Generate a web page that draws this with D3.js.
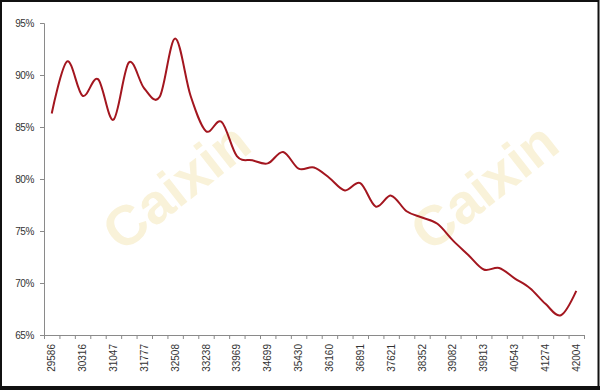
<!DOCTYPE html>
<html>
<head>
<meta charset="utf-8">
<script src="https://cdn.jsdelivr.net/npm/d3@7"></script>
<style>
  body { margin: 0; background: #fff; }
  svg { display: block; }
</style>
</head>
<body>
<div id="chart"></div>
<script>
// size of the picture
var chart_width = 600;
var chart_height = 390;

// categories: excel date serials, one per year-end 1980..2014
var dates = [29586, 29951, 30316, 30681, 31047, 31412, 31777, 32142, 32508, 32873,
             33238, 33603, 33969, 34334, 34699, 35064, 35430, 35795, 36160, 36525,
             36891, 37256, 37621, 37986, 38352, 38717, 39082, 39447, 39813, 40178,
             40543, 40908, 41274, 41639, 42004];

// series values in percent
var values = [86.3, 91.3, 88.0, 89.6, 85.7, 91.2, 88.7, 87.9, 93.5, 88.0,
              84.6, 85.5, 82.2, 81.8, 81.5, 82.6, 81.0, 81.1, 80.1, 78.9,
              79.6, 77.35, 78.4, 76.9, 76.3, 75.7, 74.1, 72.7, 71.3, 71.45,
              70.45, 69.5, 68.0, 66.9, 69.25];

// tick labels
var y_ticks = [65, 70, 75, 80, 85, 90, 95];
var x_labels = dates.filter(function(d, i){ return i % 2 === 0; });

var watermark = 'Caixin';

var plot = {left: 44, right: 584, top: 23, bottom: 335};

var svg = d3.select('#chart')
            .append('svg')
            .attr('width', chart_width)
            .attr('height', chart_height);

// frame
svg.append('rect')
    .attr('x', 0).attr('y', 0)
    .attr('width', chart_width).attr('height', chart_height)
    .attr('fill', '#fff');
svg.append('rect')
    .attr('x', 1).attr('y', 1)
    .attr('width', chart_width - 2.5).attr('height', chart_height - 4)
    .attr('fill', 'none')
    .attr('stroke', '#111')
    .attr('stroke-width', 2);
svg.append('rect')
    .attr('x', 0).attr('y', 386)
    .attr('width', chart_width).attr('height', 4)
    .attr('fill', '#111');

// scales
var x = d3.scaleBand()
          .domain(dates)
          .range([plot.left, plot.right])
          .padding(0);

var x_edges = d3.scaleLinear()
                .domain([0, dates.length])
                .range([plot.left, plot.right]);

var y = d3.scaleLinear()
          .domain([65, 95])
          .range([plot.bottom, plot.top]);

// watermarks
[[176, 186], [484, 186]].forEach(function(c){
    svg.append('text')
        .attr('transform', 'translate(' + c[0] + ',' + c[1] + ') rotate(-38)')
        .attr('text-anchor', 'middle')
        .attr('dy', '0.35em')
        .attr('font-family', 'Liberation Sans, Arial, sans-serif')
        .attr('font-weight', 'bold')
        .attr('font-size', 56)
        .attr('fill', '#f9f2d9')
        .text(watermark);
});

// y axis
var y_axis = d3.axisLeft(y)
               .tickValues(y_ticks)
               .tickSize(4)
               .tickPadding(6)
               .tickFormat(function(d){ return d + '%'; });

var gy = svg.append('g')
    .attr('transform', 'translate(' + plot.left + ',0)')
    .call(y_axis);

// x axis: ticks on category edges
var x_tick_axis = d3.axisBottom(x_edges)
                    .tickValues(d3.range(dates.length + 1))
                    .tickSize(4)
                    .tickFormat('');

var gx = svg.append('g')
    .attr('transform', 'translate(0,' + plot.bottom + ')')
    .call(x_tick_axis);

// x axis labels: every other category, rotated
var x_label_axis = d3.axisBottom(x)
                     .tickValues(x_labels)
                     .tickSize(0);

var gxl = svg.append('g')
    .attr('transform', 'translate(0,' + plot.bottom + ')')
    .call(x_label_axis);
gxl.select('.domain').remove();
gxl.selectAll('text')
    .attr('transform', 'rotate(-90)')
    .attr('x', -9)
    .attr('y', 0)
    .attr('dy', '0.35em')
    .attr('text-anchor', 'end');

[gy, gx, gxl].forEach(function(g){
    g.selectAll('.domain').attr('stroke', '#8a8a8a');
    g.selectAll('line').attr('stroke', '#8a8a8a');
    g.selectAll('text')
        .attr('fill', '#333')
        .attr('font-family', 'Liberation Sans, Arial, sans-serif')
        .attr('font-size', 10);
});
gy.selectAll('text').attr('letter-spacing', -0.4);

// the line
var line = d3.line()
             .x(function(d, i){ return x(dates[i]) + x.bandwidth() / 2; })
             .y(function(d){ return y(d); })
             .curve(d3.curveCardinal.tension(0));

svg.append('path')
    .datum(values)
    .attr('d', line)
    .attr('fill', 'none')
    .attr('stroke', '#a3161f')
    .attr('stroke-width', 2)
    .attr('stroke-linejoin', 'round');
</script>
</body>
</html>
